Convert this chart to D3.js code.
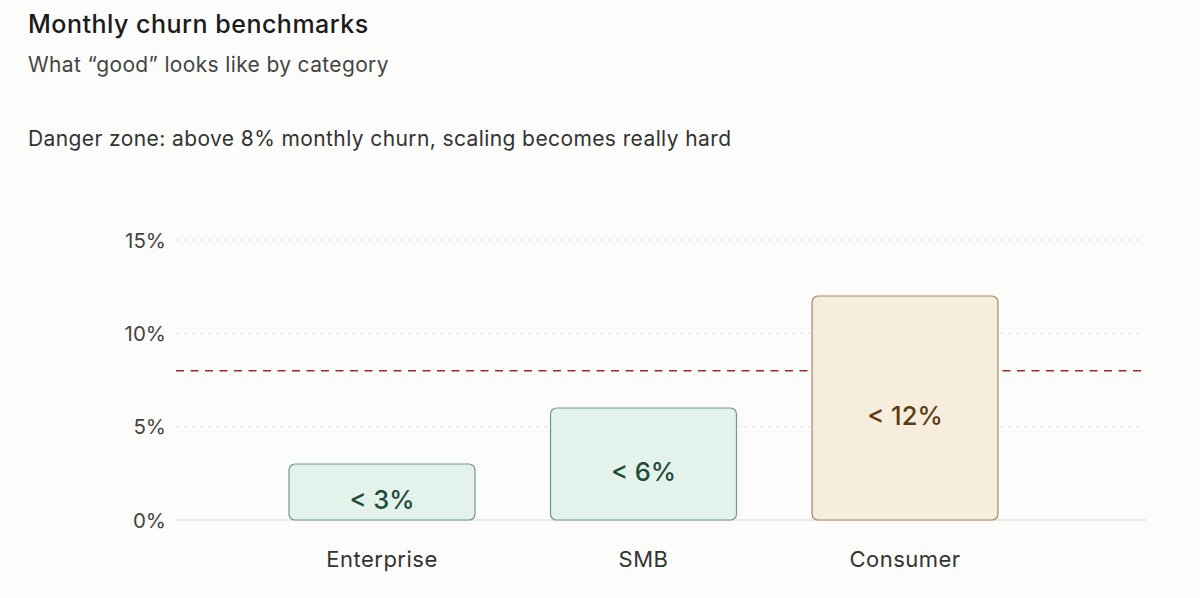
<!DOCTYPE html>
<html><head><meta charset="utf-8">
<script src="https://cdn.jsdelivr.net/npm/d3@7"></script>
<style>
html,body{margin:0;padding:0;background:#fcfcfa;}
svg{display:block;font-family:Inter, "Noto Sans", sans-serif;}
</style></head>
<body><svg id="c" width="1200" height="598"></svg>
<script>
const categories = ["Enterprise", "SMB", "Consumer"];
const churnValues = [3, 6, 12];
const barLabels = ["< 3%", "< 6%", "< 12%"];
const barGroups = ["good", "good", "warn"];
const yTicks = [0, 5, 10, 15];
const dangerThreshold = 8;

const svg = d3.select("#c");
const W = 1200, H = 598;
svg.append("rect").attr("width", W).attr("height", H).attr("fill", "#fcfcfa");

const y = d3.scaleLinear().domain([0, 15]).range([520, 240]);
const x = d3.scaleBand().domain(categories).range([251.25, 1035.75]).paddingInner(0.289).paddingOuter(0.1445);
const gridX0 = 176, gridX1 = 1142;

svg.append("text").attr("x", 28).attr("y", 33).attr("font-size", 25).attr("letter-spacing", 0.5).attr("font-weight", 500).attr("fill", "#1a1a1a").text("Monthly churn benchmarks");
svg.append("text").attr("x", 28).attr("y", 72).attr("font-size", 21).attr("letter-spacing", 0.35).attr("fill", "#444").text("What \u201cgood\u201d looks like by category");
svg.append("text").attr("x", 28).attr("y", 146).attr("font-size", 21).attr("letter-spacing", 0.4).attr("fill", "#333").text("Danger zone: above 8% monthly churn, scaling becomes really hard");

// grid
svg.append("g").selectAll("line").data(yTicks.filter(d => d > 0)).join("line")
  .attr("x1", gridX0).attr("x2", gridX1).attr("y1", d => y(d)).attr("y2", d => y(d))
  .attr("stroke", "#e2e2de").attr("stroke-width", 1).attr("stroke-dasharray", "4,4");
svg.append("line").attr("x1", gridX0).attr("x2", 1147).attr("y1", y(0)).attr("y2", y(0)).attr("stroke", "#e4e4e0").attr("stroke-width", 1.5);

// y axis labels
const yAxis = d3.axisLeft(y).tickValues(yTicks).tickFormat(d => d + "%").tickSize(0).tickPadding(0);
const ga = svg.append("g").attr("transform", "translate(166,0)").call(yAxis);
ga.select(".domain").remove();
ga.selectAll("text").attr("font-size", 20.5).attr("fill", "#444").attr("font-family", "Inter, 'Noto Sans', sans-serif").attr("dy", "0.35em");

// danger line
svg.append("line").attr("x1", gridX0).attr("x2", 1142).attr("y1", y(dangerThreshold)).attr("y2", y(dangerThreshold))
  .attr("stroke", "#9b2b30").attr("stroke-width", 1.5).attr("stroke-dasharray", "8,6.5");

const fills = {good: "#e3f3ec", warn: "#f7eddc"};
const strokes = {good: "#6f9988", warn: "#a58867"};
const textCol = {good: "#1e4a3a", warn: "#5b3b15"};

const data = categories.map((c, i) => ({c, v: churnValues[i], l: barLabels[i], g: barGroups[i]}));
svg.append("g").selectAll("rect").data(data).join("rect")
  .attr("x", d => x(d.c)).attr("width", x.bandwidth())
  .attr("y", d => y(d.v)).attr("height", d => y(0) - y(d.v))
  .attr("rx", 6).attr("fill", d => fills[d.g]).attr("stroke", d => strokes[d.g]).attr("stroke-width", 1.2);

svg.append("g").selectAll("text").data(data).join("text")
  .attr("x", d => x(d.c) + x.bandwidth() / 2).attr("y", d => (y(d.v) + y(0)) / 2 + 17)
  .attr("text-anchor", "middle").attr("font-size", 25.5).attr("font-weight", 500)
  .attr("fill", d => textCol[d.g]).text(d => d.l);

// x axis labels
const xAxis = d3.axisBottom(x).tickSize(0).tickPadding(0);
const gx = svg.append("g").attr("transform", "translate(0,567)").call(xAxis);
gx.select(".domain").remove();
gx.selectAll("text").attr("font-size", 22).attr("letter-spacing", 0.5).attr("fill", "#333").attr("font-family", "Inter, 'Noto Sans', sans-serif").attr("dy", 0);
</script></body></html>
